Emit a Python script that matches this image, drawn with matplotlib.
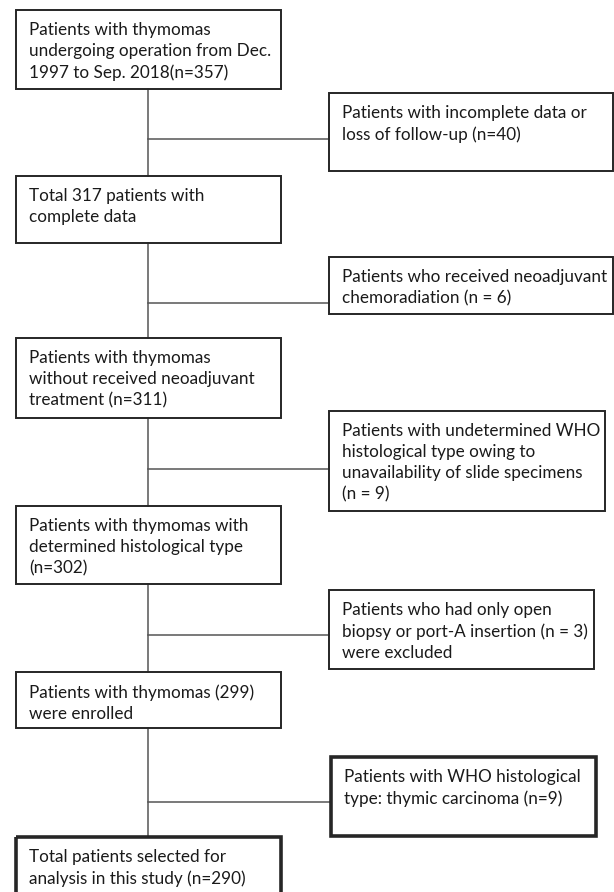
import matplotlib.pyplot as plt
from matplotlib.patches import Rectangle

# Main flow boxes (left column)
main_labels = [
    "Patients with thymomas\nundergoing operation from Dec.\n1997 to Sep. 2018(n=357)",
    "Total 317 patients with\ncomplete data",
    "Patients with thymomas\nwithout received neoadjuvant\ntreatment (n=311)",
    "Patients with thymomas with\ndetermined histological type\n(n=302)",
    "Patients with thymomas (299)\nwere enrolled",
    "Total patients selected for\nanalysis in this study (n=290)",
]

# Exclusion boxes (right column)
excl_labels = [
    "Patients with incomplete data or\nloss of follow-up (n=40)",
    "Patients who received neoadjuvant\nchemoradiation (n = 6)",
    "Patients with undetermined WHO\nhistological type owing to\nunavailability of slide specimens\n(n = 9)",
    "Patients who had only open\nbiopsy or port-A insertion (n = 3)\nwere excluded",
    "Patients with WHO histological\ntype: thymic carcinoma (n=9)",
]

W, H = 614, 892

# layout in pixels: (x0, y0, x1, y1)
main_boxes = [
    (16, 10, 281, 89),
    (16, 176, 281, 243),
    (16, 338, 281, 418),
    (16, 506, 281, 584),
    (16, 672, 281, 728),
    (16, 837, 281, 910),
]
excl_boxes = [
    (329, 93, 613, 171),
    (329, 257, 613, 314),
    (329, 411, 605, 511),
    (329, 590, 594, 669),
    (331, 757, 596, 836),
]
branch_y = [139, 303, 469, 635, 802]
thick_main = [5]
thick_excl = [4]
spine_x = 148

fig = plt.figure(figsize=(W / 100, H / 100), dpi=100)
ax = fig.add_axes([0, 0, 1, 1])
ax.set_xlim(0, W)
ax.set_ylim(H, 0)
ax.axis("off")

line_col = "#555555"
box_col = "#262626"
text_col = "#1a1a1a"
font = "Lato"


def draw_box(ax, box, label, thick):
    x0, y0, x1, y1 = box
    lw = 2.6 if thick else 1.4
    ax.add_patch(Rectangle((x0, y0), x1 - x0, y1 - y0, fill=False,
                           edgecolor=box_col, linewidth=lw, zorder=3))
    ax.text(x0 + 13, y0 + 12, label, ha="left", va="top", fontsize=12.3,
            family=font, color=text_col, linespacing=1.4, zorder=4)


# vertical spine segments between main boxes
for upper, lower in zip(main_boxes[:-1], main_boxes[1:]):
    ax.plot([spine_x, spine_x], [upper[3], lower[1]], color=line_col,
            linewidth=1.1, zorder=2)

# branches to exclusion boxes
for y, box in zip(branch_y, excl_boxes):
    ax.plot([spine_x, box[0]], [y, y], color=line_col, linewidth=1.1, zorder=2)

for i, (box, label) in enumerate(zip(main_boxes, main_labels)):
    draw_box(ax, box, label, i in thick_main)
for i, (box, label) in enumerate(zip(excl_boxes, excl_labels)):
    draw_box(ax, box, label, i in thick_excl)

fig.savefig("out.png", dpi=100, facecolor="white")
